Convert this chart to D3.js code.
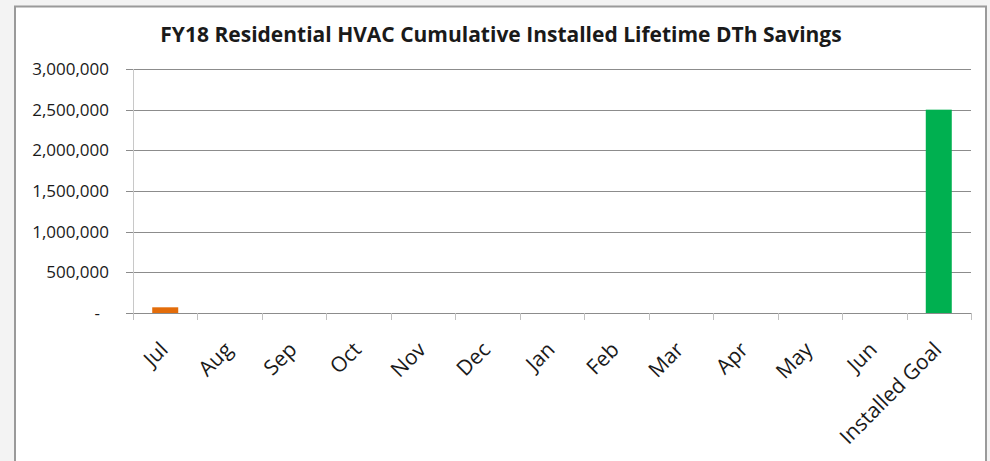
<!DOCTYPE html>
<html>
<head>
<meta charset="utf-8">
<script src="https://cdn.jsdelivr.net/npm/d3@7"></script>
<style>
  body { margin: 0; background: #f3f3f3; }
  svg { display: block; }
  text { font-family: "Open Sans", "Noto Sans", sans-serif; fill: #1a1a1a; }
</style>
</head>
<body>
<div id="chart"></div>
<script>
// chart values
var categories = ["Jul", "Aug", "Sep", "Oct", "Nov", "Dec", "Jan", "Feb", "Mar", "Apr", "May", "Jun", "Installed Goal"];
var savings = [70000, 0, 0, 0, 0, 0, 0, 0, 0, 0, 0, 0, 2500000];
var barColors = ["#e36c0a", "#e36c0a", "#e36c0a", "#e36c0a", "#e36c0a", "#e36c0a", "#e36c0a", "#e36c0a", "#e36c0a", "#e36c0a", "#e36c0a", "#e36c0a", "#00b050"];
var yTicks = [0, 500000, 1000000, 1500000, 2000000, 2500000, 3000000];
var title = "FY18 Residential HVAC Cumulative Installed Lifetime DTh Savings";

var svgWidth = 990;
var svgHeight = 461;

var margin = { top: 69, right: 19, bottom: 148, left: 133 };
var width = svgWidth - margin.left - margin.right;
var height = svgHeight - margin.top - margin.bottom;

var svg = d3.select("#chart")
  .append("svg")
  .attr("width", svgWidth)
  .attr("height", svgHeight);

// white chart box with grey frame
svg.append("rect")
  .attr("x", 15)
  .attr("y", 6.5)
  .attr("width", 971)
  .attr("height", 470)
  .attr("fill", "#ffffff")
  .attr("stroke", "#9a9a9a")
  .attr("stroke-width", 2);

svg.append("text")
  .attr("x", 501)
  .attr("y", 42)
  .attr("text-anchor", "middle")
  .style("font-size", "21px")
  .style("font-weight", "bold")
  .text(title);

var chartGroup = svg.append("g")
  .attr("transform", `translate(${margin.left}, ${margin.top})`);

var xScale = d3.scaleBand()
  .domain(categories)
  .range([0, width])
  .paddingInner(0.6)
  .paddingOuter(0.3);

var yScale = d3.scaleLinear()
  .domain([0, 3000000])
  .range([height, 0]);

// gridlines
chartGroup.append("g")
  .selectAll("line")
  .data(yTicks.slice(1))
  .enter()
  .append("line")
  .attr("x1", -7)
  .attr("x2", width)
  .attr("y1", d => Math.round(yScale(d)) + 0.5)
  .attr("y2", d => Math.round(yScale(d)) + 0.5)
  .attr("stroke", "#8c8c8c")
  .attr("stroke-width", 1);

// y axis
var fmt = d3.format(",");
var leftAxis = d3.axisLeft(yScale)
  .tickValues(yTicks)
  .tickSize(0)
  .tickPadding(24)
  .tickFormat(d => d === 0 ? "-" : fmt(d));

var yAxis = chartGroup.append("g")
  .call(leftAxis);
yAxis.select(".domain").remove();
yAxis.selectAll("text")
  .style("font-size", "17px")
  .attr("dx", d => d === 0 ? -9 : 0);

chartGroup.append("line")
  .attr("x1", 0.5).attr("x2", 0.5)
  .attr("y1", 0).attr("y2", height)
  .attr("stroke", "#c8c8c8");

// bars
var barWidth = 26;
chartGroup.selectAll("rect.bar")
  .data(categories)
  .enter()
  .append("rect")
  .attr("class", "bar")
  .attr("x", d => xScale(d) + xScale.bandwidth() / 2 - barWidth / 2)
  .attr("width", barWidth)
  .attr("y", (d, i) => yScale(savings[i]))
  .attr("height", (d, i) => height - yScale(savings[i]))
  .attr("fill", (d, i) => barColors[i]);

// x axis line and category ticks
var step = xScale.step();
chartGroup.append("line")
  .attr("x1", -7).attr("x2", width)
  .attr("y1", height + 0.5).attr("y2", height + 0.5)
  .attr("stroke", "#8c8c8c");

chartGroup.append("g")
  .selectAll("line")
  .data(d3.range(categories.length + 1))
  .enter()
  .append("line")
  .attr("x1", d => Math.round(d * step) + 0.5)
  .attr("x2", d => Math.round(d * step) + 0.5)
  .attr("y1", height)
  .attr("y2", height + 7)
  .attr("stroke", "#c0c0c0");

// rotated category labels
chartGroup.append("g")
  .selectAll("text")
  .data(categories)
  .enter()
  .append("text")
  .attr("text-anchor", "end")
  .attr("transform", d => `translate(${xScale(d) + xScale.bandwidth() / 2 + 4}, ${height + 38}) rotate(-45)`)
  .style("font-size", "21px")
  .text(d => d);
</script>
</body>
</html>
